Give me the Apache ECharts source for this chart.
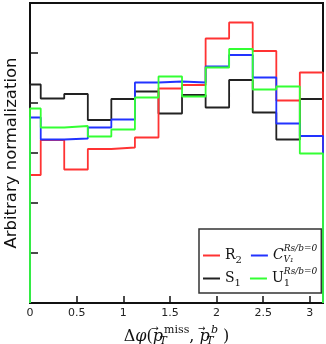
<!DOCTYPE html>
<html lang="en">
<head>
    <meta charset="UTF-8">
    <title>Delta phi distribution</title>
    <script src="https://cdn.jsdelivr.net/npm/echarts@6/dist/echarts.min.js"></script>
    <style>
        html, body { margin: 0; padding: 0; background: #fff; }
        #chartmain { width: 326px; height: 344px; }
    </style>
</head>
<body>
<div id="chartmain"></div>
<script>
    // bin edges in delta phi (first bin is cut at 0, last at pi)
    var binEdges = [0, 0.115, 0.367, 0.62, 0.872, 1.125, 1.378, 1.63, 1.883, 2.135, 2.388, 2.641, 2.893, 3.1416];
    // arbitrary normalization, one value per bin
    var valR2 = [2.56, 3.26, 2.67, 3.08, 3.11, 3.31, 4.29, 4.36, 5.29, 5.61, 5.04, 4.05, 4.61];
    var valS1 = [4.37, 4.09, 4.18, 3.66, 4.08, 4.23, 3.79, 4.16, 3.91, 4.46, 3.81, 3.27, 4.08];
    var valCV1 = [3.71, 3.27, 3.29, 3.51, 3.67, 4.41, 4.43, 4.41, 4.73, 4.96, 4.51, 3.59, 3.34];
    var valU1 = [3.89, 3.51, 3.54, 3.33, 3.47, 4.11, 4.53, 4.13, 4.71, 5.08, 4.27, 4.33, 2.99];
    var xTicks = [0, 0.5, 1, 1.5, 2, 2.5, 3];

    // histogram outline: up from 0 at the left edge, steps, down to 0 at the right edge
    function steps(vals) {
        var pts = [[binEdges[0], 0]];
        for (var i = 0; i < vals.length; i++) {
            pts.push([binEdges[i], vals[i]]);
            pts.push([binEdges[i + 1], vals[i]]);
        }
        pts.push([binEdges[binEdges.length - 1], 0]);
        return pts;
    }

    // sub/superscripts: shifted with padding, "z" tokens have no width so the next one stacks on top
    var rich = {
        n: {fontFamily: 'DejaVu Serif', fontSize: 14, color: '#111', lineHeight: 24},
        i: {fontFamily: 'DejaVu Serif', fontStyle: 'italic', fontSize: 14, color: '#111', lineHeight: 24},
        sub: {fontFamily: 'DejaVu Serif', fontSize: 10, color: '#111', lineHeight: 10, padding: [9, 0, 0, 0]},
        subz: {fontFamily: 'DejaVu Serif', fontSize: 10, color: '#111', lineHeight: 10, padding: [9, 0, 0, 0], width: 0.1, align: 'left'},
        subiz: {fontFamily: 'DejaVu Serif', fontStyle: 'italic', fontSize: 9, color: '#111', lineHeight: 9, padding: [9, 0, 0, 0], width: 0.1, align: 'left'},
        sup: {fontFamily: 'DejaVu Serif', fontStyle: 'italic', fontSize: 9, color: '#111', lineHeight: 8, padding: [0, 0, 14, 0]},
        gap: {fontSize: 10, lineHeight: 10, width: 9}
    };

    var legendText = {
        'R2': '{n|R}{sub|2}{gap| }',
        'S1': '{n|S}{sub|1}{gap| }',
        'CV1': '{i|C}{subiz|V₁}{sup|Rs/b=0}',
        'U1': '{n|U}{subz|1}{sup|Rs/b=0}'
    };

    var xRich = {
        n: {fontFamily: 'DejaVu Serif', fontSize: 16, color: '#111', lineHeight: 26},
        i: {fontFamily: 'DejaVu Serif', fontStyle: 'italic', fontSize: 16, color: '#111', lineHeight: 26},
        arr: {fontFamily: 'DejaVu Sans', fontSize: 9, color: '#111', lineHeight: 9, padding: [0, 0, 16, 0], width: 0.1, align: 'left'},
        subz: {fontFamily: 'DejaVu Serif', fontStyle: 'italic', fontSize: 11, color: '#111', lineHeight: 11, padding: [10, 0, 0, 0], width: 0.1, align: 'left'},
        sup: {fontFamily: 'DejaVu Serif', fontSize: 11, color: '#111', lineHeight: 11, padding: [0, 0, 13, 1]},
        supi: {fontFamily: 'DejaVu Serif', fontStyle: 'italic', fontSize: 11, color: '#111', lineHeight: 11, padding: [0, 0, 13, 1]}
    };

    var myChart = echarts.init(document.getElementById('chartmain'));
    var option = {
        animation: false,
        grid: {
            left: 30, right: 3, top: 3, bottom: 41,
            outerBoundsMode: 'none', containLabel: false,
            show: true, borderColor: '#111', borderWidth: 2
        },
        xAxis: {
            type: 'value', min: 0, max: Math.PI, interval: 0.5,
            name: '{n|Δ}{i|φ}{n|(}{arr|\u2002→}{i|p}{subz|T}{sup|miss}{n|, }{arr|\u2002→}{i|p}{subz|T}{supi|b}{n| )}',
            nameLocation: 'middle', nameGap: 17,
            nameTextStyle: {rich: xRich},
            axisLine: {show: true, lineStyle: {color: '#111', width: 2}},
            axisTick: {inside: true, length: 7, lineStyle: {color: '#111', width: 1.5}},
            axisLabel: {
                color: '#222', fontFamily: 'DejaVu Sans', fontSize: 11, margin: 5,
                formatter: function (v) { return xTicks.indexOf(v) >= 0 ? String(v) : ''; }
            },
            splitLine: {show: false}
        },
        yAxis: {
            type: 'value', min: 0, max: 6, interval: 1,
            name: 'Arbitrary normalization',
            nameLocation: 'middle', nameGap: 10,
            nameTextStyle: {fontFamily: 'DejaVu Sans', fontSize: 16.5, color: '#111'},
            axisLine: {show: true, lineStyle: {color: '#111', width: 2}},
            axisTick: {inside: true, length: 8, lineStyle: {color: '#111', width: 1.5}},
            axisLabel: {show: false},
            splitLine: {show: false}
        },
        legend: {
            left: 199, top: 229, width: 130,
            orient: 'horizontal',
            padding: [15, 4, 3, 4],
            itemGap: 0,
            borderColor: '#333', borderWidth: 1.5,
            backgroundColor: '#fff',
            itemWidth: 17, itemHeight: 2,
            icon: 'rect',
            data: ['R2', 'CV1', 'S1', 'U1'],
            formatter: function (name) { return legendText[name]; },
            textStyle: {rich: rich}
        },
        series: [
            {name: 'S1', type: 'line', data: steps(valS1), symbol: 'none', color: '#222', lineStyle: {width: 1.8, color: '#222'}},
            {name: 'R2', type: 'line', data: steps(valR2), symbol: 'none', color: '#ff3333', lineStyle: {width: 1.8, color: '#ff3333'}},
            {name: 'CV1', type: 'line', data: steps(valCV1), symbol: 'none', color: '#2233ff', lineStyle: {width: 1.8, color: '#2233ff'}},
            {name: 'U1', type: 'line', data: steps(valU1), symbol: 'none', color: '#33ff33', lineStyle: {width: 1.8, color: '#33ff33'}}
        ]
    };
    myChart.setOption(option);
</script>
</body>
</html>
